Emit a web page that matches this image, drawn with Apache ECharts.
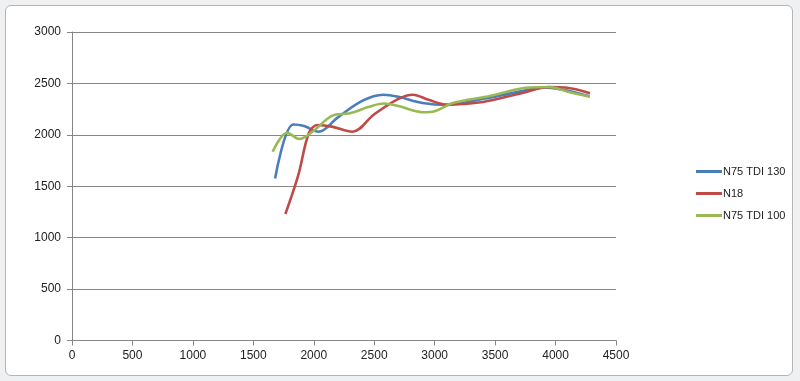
<!DOCTYPE html>
<html>
<head>
<meta charset="utf-8">
<script src="https://cdn.jsdelivr.net/npm/echarts@6/dist/echarts.min.js"></script>
<style>
html,body{margin:0;padding:0;background:#eef0f2;width:800px;height:381px;overflow:hidden;}
#frame{position:absolute;left:5px;top:5px;width:786px;height:369px;background:#fff;border:1px solid #b5b5b5;border-radius:6px;}
#chart{position:absolute;left:0;top:0;width:800px;height:381px;}
</style>
</head>
<body>
<div id="frame"></div>
<div id="chart"></div>
<script>
const seriesNames = ["N75 TDI 130", "N18", "N75 TDI 100"];
const blue = [[1680,1575],[1830,2100],[1920,2085],[2040,2030],[2200,2170],[2400,2330],[2575,2390],[2700,2370],[2900,2310],[3100,2290],[3400,2350],[3700,2420],[3900,2460],[4050,2440],[4280,2375]];
const red = [[1765,1230],[1870,1600],[1960,2020],[2030,2095],[2150,2080],[2320,2030],[2500,2200],[2700,2350],[2820,2390],[2950,2340],[3100,2295],[3400,2320],[3700,2400],[3950,2465],[4080,2460],[4285,2405]];
const green = [[1660,1835],[1780,2020],[1880,1960],[2000,2040],[2150,2185],[2300,2210],[2450,2270],[2580,2305],[2700,2280],[2900,2220],[3000,2230],[3150,2310],[3450,2375],[3780,2460],[3950,2465],[4100,2420],[4285,2370]];
const colors = ["#4A7EBB", "#BE4B48", "#98B954"];

const chart = echarts.init(document.getElementById('chart'), null, {renderer:'canvas'});
const font = "'Liberation Sans', Arial, sans-serif";
const mk = (name, data, c) => ({
  name, type:'line', data, smooth:0.35, symbol:'none', showSymbol:false,
  lineStyle:{color:c, width:2.6}, itemStyle:{color:c}
});
const plain = v => String(v);
chart.setOption({
  animation:false,
  backgroundColor:'transparent',
  grid:{left:72, right:184, top:32, bottom:40.5, containLabel:false},
  legend:{
    orient:'vertical', left:691, top:161,
    itemWidth:26, itemHeight:3, itemGap:11, icon:'rect',
    textStyle:{fontFamily:font, fontSize:11, color:'#222', padding:[0,0,0,-4]},
    data:seriesNames
  },
  xAxis:{
    type:'value', min:0, max:4500, interval:500,
    axisLine:{show:true, lineStyle:{color:'#868686', width:1}},
    axisTick:{show:true, length:5, lineStyle:{color:'#868686'}},
    axisLabel:{fontFamily:font, fontSize:12, color:'#222', margin:9, formatter:plain},
    splitLine:{show:false}
  },
  yAxis:{
    type:'value', min:0, max:3000, interval:500,
    axisLine:{show:true, lineStyle:{color:'#868686', width:1}},
    axisTick:{show:true, length:5, lineStyle:{color:'#868686'}},
    axisLabel:{fontFamily:font, fontSize:12, color:'#222', margin:11, formatter:plain},
    splitLine:{show:true, lineStyle:{color:'#868686', width:1}}
  },
  series:[mk(seriesNames[0], blue, colors[0]), mk(seriesNames[1], red, colors[1]), mk(seriesNames[2], green, colors[2])]
});
</script>
</body>
</html>
